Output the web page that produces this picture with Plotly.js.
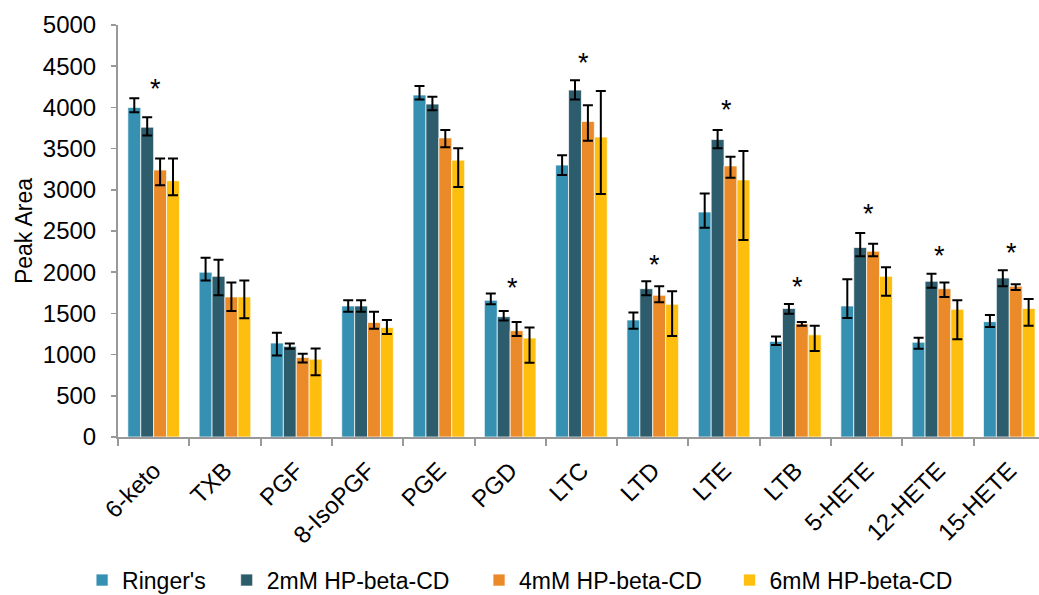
<!DOCTYPE html>
<html>
<head>
<meta charset="utf-8">
<script src="https://cdn.plot.ly/plotly-3.0.1.min.js"></script>
<style>html,body{margin:0;padding:0;background:#fff;}#chart{width:1039px;height:595px;}</style>
</head>
<body>
<div id="chart"></div>
<script>
const categories = ["6-keto","TXB","PGF","8-IsoPGF","PGE","PGD","LTC","LTD","LTE","LTB","5-HETE","12-HETE","15-HETE"];
const seriesNames = ["Ringer's","2mM HP-beta-CD","4mM HP-beta-CD","6mM HP-beta-CD"];

const ringers      = [4000, 2000, 1140, 1590, 4150, 1660, 3300, 1420, 2730, 1160, 1590, 1150, 1400];
const ringersPlus  = [ 110,  175,  125,   70,  110,   80,  120,   90,  225,   60,  325,   55,   80];
const ringersMinus = [  60,  100,  150,   70,   55,   50,  120,  105,  190,   45,  145,   80,   65];

const cd2      = [3760, 1950, 1100, 1590, 4040, 1460, 4210, 1800, 3610, 1560, 2300, 1890, 1930];
const cd2Plus  = [ 120,  200,   35,   70,   90,   70,  120,   90,  115,   55,  175,   90,   95];
const cd2Minus = [ 100,  230,   30,   70,   75,   45,  115,   80,  105,   65,  105,   80,  100];

const cd4      = [3240, 1700,  965, 1390, 3630, 1290, 3830, 1720, 3290, 1375, 2255, 1800, 1830];
const cd4Plus  = [ 140,  175,   45,  130,   95,  105,  195,  110,  110,   20,   90,   75,   25];
const cd4Minus = [ 185,  170,   60,   75,  115,   65,  235,   85,  145,   25,   60,  100,   45];

const cd6      = [3110, 1700,  945, 1330, 3360, 1200, 3640, 1610, 3120, 1240, 1950, 1550, 1560];
const cd6Plus  = [ 270,  200,  130,   90,  145,  130,  560,  160,  350,  110,  110,  110,  115];
const cd6Minus = [ 175,  260,  195,   80,  325,  300,  690,  385,  730,  195,  235,  365,  210];

const sigCategories = ["6-keto","PGD","LTC","LTD","LTE","LTB","5-HETE","12-HETE","15-HETE"];
const sigY          = [4300, 1885, 4612, 2160, 4038, 1893, 2775, 2270, 2302];

const colors = ["#3590B1", "#2D5D6D", "#EA8A28", "#FDBE0E"];
const legendX = [-0.039, 0.118, 0.392, 0.664];

const values = [ringers, cd2, cd4, cd6];
const plus = [ringersPlus, cd2Plus, cd4Plus, cd6Plus];
const minus = [ringersMinus, cd2Minus, cd4Minus, cd6Minus];

const FONT = "Liberation Sans, Arial, Helvetica, sans-serif";
const legendNames = ["legend","legend2","legend3","legend4"];

const traces = values.map((v, i) => ({
  type: "bar",
  name: seriesNames[i],
  x: categories,
  y: v,
  legend: legendNames[i],
  marker: {color: colors[i], line: {color: "rgba(255,255,255,0.7)", width: 1}},
  error_y: {type: "data", symmetric: false, array: plus[i], arrayminus: minus[i],
            color: "#000", thickness: 2, width: 5},
  hoverinfo: "x+y+name"
}));

const layout = {
  width: 1039, height: 595,
  margin: {l: 118, r: 0, t: 25, b: 158},
  paper_bgcolor: "#fff", plot_bgcolor: "#fff",
  font: {family: FONT, size: 22, color: "#000"},
  barmode: "group",
  bargap: 0.276,
  bargroupgap: 0,
  showlegend: true,
  xaxis: {
    type: "category",
    range: [-0.5, 12.417],
    automargin: false,
    showline: true, linecolor: "#999", linewidth: 2,
    ticks: "outside", tickson: "boundaries", ticklen: 7, tickcolor: "#999", tickwidth: 2,
    tickangle: -45,
    ticklabelstandoff: 8,
    tickfont: {family: FONT, size: 24, color: "#000"},
    showgrid: false, zeroline: false
  },
  yaxis: {
    range: [0, 5000],
    dtick: 500,
    automargin: false,
    showline: true, linecolor: "#999", linewidth: 2,
    ticks: "outside", ticklen: 5, tickcolor: "#999", tickwidth: 1.5,
    ticklabelstandoff: 10,
    tickfont: {family: FONT, size: 24, color: "#000"},
    showgrid: false, zeroline: false,
    title: {text: "Peak Area", font: {family: FONT, size: 23, color: "#000"}, standoff: 4}
  },
  annotations: sigCategories.map((c, i) => ({
    x: c, y: sigY[i], xref: "x", yref: "y",
    text: "*", showarrow: false,
    font: {family: FONT, size: 27, color: "#000"},
    yanchor: "middle", yshift: -6, xshift: 2
  }))
};

legendNames.forEach((ln, i) => {
  layout[ln] = {
    orientation: "h", x: legendX[i], xanchor: "left",
    yref: "container", y: 0.025, yanchor: "middle",
    font: {family: FONT, size: 23, color: "#000"},
    bgcolor: "rgba(0,0,0,0)", itemwidth: 30
  };
});

Plotly.newPlot("chart", traces, layout, {displayModeBar: false, staticPlot: true});
</script>
</body>
</html>
